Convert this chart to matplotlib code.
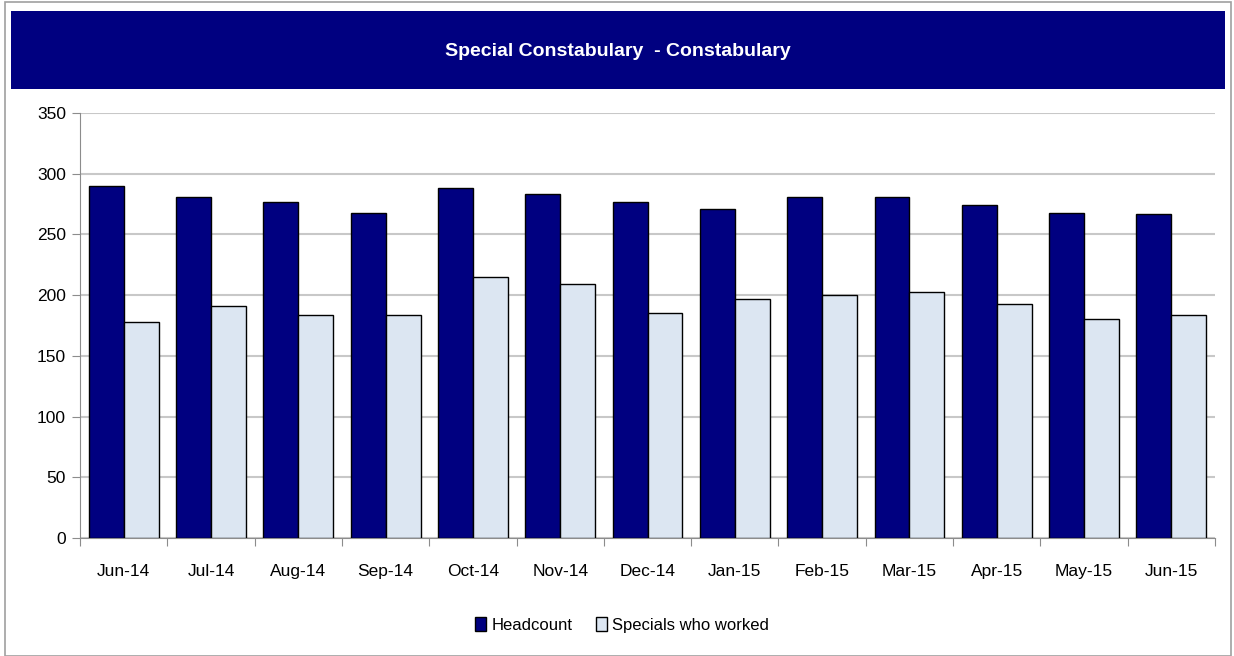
import matplotlib
matplotlib.use("Agg")
import matplotlib.pyplot as plt
from matplotlib.patches import Rectangle
import numpy as np

months = ["Jun-14", "Jul-14", "Aug-14", "Sep-14", "Oct-14", "Nov-14", "Dec-14",
          "Jan-15", "Feb-15", "Mar-15", "Apr-15", "May-15", "Jun-15"]
headcount = [290, 281, 277, 268, 288, 283, 277, 271, 281, 281, 274, 268, 267]
specials = [178, 191, 184, 184, 215, 209, 185, 197, 200, 203, 193, 180, 184]

navy = "#000080"
light = "#dce6f2"
plt.rcParams['font.family'] = ['Liberation Sans', 'DejaVu Sans']

W, H = 1234, 656
fig = plt.figure(figsize=(W / 100, H / 100), dpi=100)

# outer frame and title band
fig.patches.append(Rectangle((5 / W, 0), (W - 8) / W, (H - 2) / H, transform=fig.transFigure,
                             facecolor="none", edgecolor="#a0a0a0", lw=1.2, zorder=0))
fig.patches.append(Rectangle((11 / W, 1 - 89 / H), (1225 - 11) / W, 78 / H, transform=fig.transFigure,
                             facecolor=navy, edgecolor="none", zorder=1))
fig.text(618 / W, 1 - 52 / H, "Special Constabulary  - Constabulary", color="white",
         fontsize=14, ha="center", va="center", fontweight="bold")

ax = fig.add_axes([80 / W, 1 - 538 / H, (1215 - 80) / W, (538 - 113) / H], zorder=5)
ax.patch.set_alpha(0)
x = np.arange(len(months))
w = 0.4
ax.bar(x - w / 2, headcount, w, color=navy, edgecolor="black", lw=1, label="Headcount", zorder=3)
ax.bar(x + w / 2, specials, w, color=light, edgecolor="black", lw=1, label="Specials who worked", zorder=3)

ax.set_xlim(-0.5, len(months) - 0.5)
ax.set_ylim(0, 350)
ax.set_yticks(range(0, 351, 50))
ax.yaxis.grid(True, color="#c8c8c8", lw=1.5, zorder=0)
ax.set_axisbelow(True)
for s in ["top", "right"]:
    ax.spines[s].set_visible(False)
for s in ["left", "bottom"]:
    ax.spines[s].set_color("#8c8c8c")

ax.set_xticks(np.arange(-0.5, len(months), 1))
ax.set_xticklabels([])
ax.set_xticks(x, minor=True)
ax.set_xticklabels(months, minor=True)
ax.tick_params(axis="x", which="major", length=6, color="#8c8c8c")
ax.tick_params(axis="x", which="minor", length=0, pad=19, labelsize=12.5)
ax.tick_params(axis="y", length=6, color="#8c8c8c", labelsize=12.5, pad=4)

fig.legend(loc="center", bbox_to_anchor=(622 / W, 1 - 625 / H), ncol=2, frameon=False,
           fontsize=12, handlelength=0.7, handleheight=0.9, handletextpad=0.3, columnspacing=1.4)

fig.savefig("out.png", dpi=100)
